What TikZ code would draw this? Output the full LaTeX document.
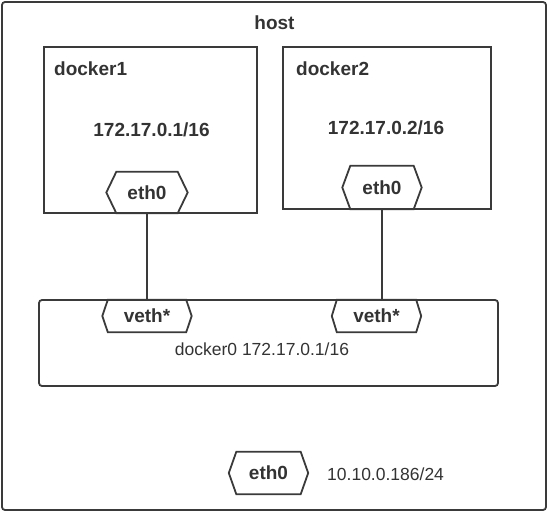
\documentclass[tikz,border=0pt]{standalone}
\usepackage{fontspec}
\setmainfont{Liberation Sans}
\begin{document}
\begin{tikzpicture}[x=1bp,y=-1bp,
  line/.style={draw=linegray,line width=1.8bp,line join=miter},
  boldlbl/.style={inner sep=0pt,text=textgray,font=\fontsize{19bp}{22bp}\selectfont\bfseries},
  plainlbl/.style={inner sep=0pt,text=textgray,font=\fontsize{17.5bp}{21bp}\selectfont},
  hexcore/.style={boldlbl,rectangle,minimum height=#1},
]
\definecolor{linegray}{HTML}{3A3A3A}
\definecolor{textgray}{HTML}{333333}
\newcommand\hexframe[2]{\draw[line] (#1.north west) -- (#1.north east) -- ([xshift=#2]#1.east) -- (#1.south east) -- (#1.south west) -- ([xshift=-#2]#1.west) -- cycle;}
\useasboundingbox (0,0) rectangle (549,511);
% outer host frame
\draw[line,rounded corners=3bp] (2,2) rectangle (546,510);
\node[boldlbl,anchor=base] (host) at (274.5,30) {host};
% docker1
\draw[line] (44,47) rectangle (257,213);
\node[boldlbl,anchor=base west] (d1) at (54,76) {docker1};
\node[boldlbl,anchor=base] (ip1) at (151.5,137) {172.17.0.1/16};
\node[hexcore=41bp,minimum width=61bp] (e1) at (147,192.5) {eth0};
\hexframe{e1}{10bp}
% docker2
\draw[line] (283,47) rectangle (491,209);
\node[boldlbl,anchor=base west] (d2) at (296,76) {docker2};
\node[boldlbl,anchor=base] (ip2) at (386,135) {172.17.0.2/16};
\node[hexcore=43bp,minimum width=63bp] (e2) at (382,187.5) {eth0};
\hexframe{e2}{8bp}
% docker0 bridge
\draw[line,rounded corners=3bp] (39,300) rectangle (498,386);
\node[hexcore=32bp,minimum width=78bp] (v1) at (147,316) {veth*};
\hexframe{v1}{5.5bp}
\node[hexcore=32bp,minimum width=79bp] (v2) at (376.5,316) {veth*};
\hexframe{v2}{5bp}
\node[plainlbl,anchor=base] (br) at (262,355) {docker0 172.17.0.1/16};
% connectors
\draw[line] (e1.south) -- (e1.south |- v1.north);
\draw[line] (e2.south) -- (e2.south |- v2.north);
% host eth0
\node[hexcore=42bp,minimum width=64bp] (e3) at (268.5,473) {eth0};
\hexframe{e3}{7.5bp}
\node[plainlbl,anchor=base west] (hip) at (327,480) {10.10.0.186/24};
\end{tikzpicture}
\end{document}
